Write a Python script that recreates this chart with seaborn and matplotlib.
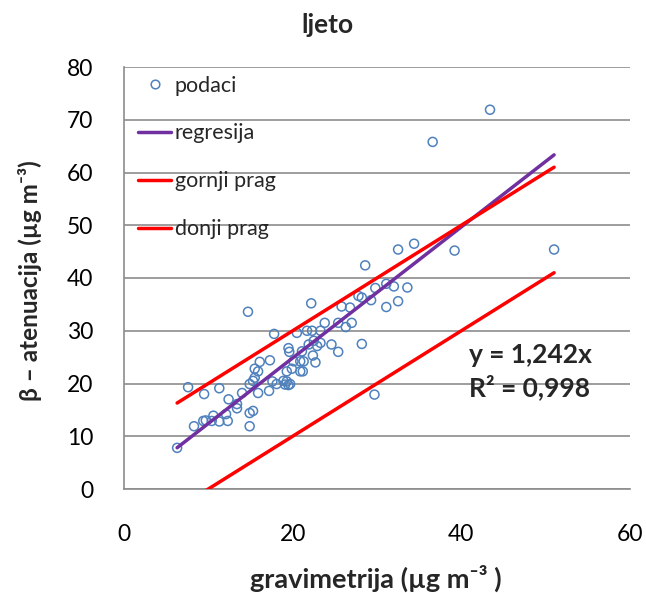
import numpy as np
import pandas as pd
import matplotlib
matplotlib.use("Agg")
import matplotlib.pyplot as plt
from matplotlib.lines import Line2D
import seaborn as sns

# ---- data ----
grav = [6.3, 7.6, 8.3, 9.5, 9.4, 9.7, 10.4, 10.6, 11.3, 11.3, 12.1, 12.3, 12.4,
        13.4, 13.4, 14.0, 14.7, 14.9, 14.9, 15.3, 14.9, 15.3, 15.5, 15.5, 15.9,
        15.9, 16.1, 17.2, 17.3, 17.6, 17.8, 18.1, 18.9, 19.1, 19.3, 19.5, 19.7,
        19.3, 19.6, 19.5, 19.9, 20.1, 20.5, 20.9, 20.9, 21.1, 21.2, 21.3, 21.7,
        21.9, 22.2, 22.3, 22.4, 22.5, 22.7, 22.9, 23.3, 23.3, 23.8, 24.6, 25.4,
        25.4, 25.8, 26.3, 26.8, 27.0, 27.8, 28.2, 28.2, 28.6, 29.3, 29.7, 29.8,
        31.1, 31.1, 32.0, 32.5, 32.5, 33.6, 34.4, 36.6, 39.2, 43.4, 51.0]
beta = [7.8, 19.3, 11.9, 18.0, 12.9, 13.0, 12.9, 13.9, 19.1, 12.8, 14.2, 12.9, 17.0,
        15.3, 16.1, 18.2, 33.6, 19.9, 14.4, 14.8, 11.9, 20.5, 21.1, 22.8, 22.3,
        18.2, 24.1, 18.6, 24.4, 20.4, 29.4, 19.9, 20.5, 19.8, 20.4, 19.7, 19.9,
        22.3, 26.0, 26.7, 22.8, 24.2, 29.6, 24.2, 22.3, 26.1, 22.3, 24.2, 30.0,
        27.4, 35.2, 30.0, 25.3, 28.1, 24.0, 27.1, 30.0, 27.7, 31.5, 27.4, 26.0,
        31.5, 34.6, 30.7, 34.4, 31.5, 36.6, 27.5, 36.3, 42.4, 35.8, 17.9, 38.1,
        38.9, 34.5, 38.4, 35.6, 45.4, 38.2, 46.5, 65.8, 45.2, 71.9, 45.4]
slope = 1.242
r2 = 0.998
prag = 10
x_ticks = [0, 20, 40, 60]
y_ticks = [0, 10, 20, 30, 40, 50, 60, 70, 80]
labels = ["podaci", "regresija", "gornji prag", "donji prag"]

sns.set_style("white")
plt.rcParams['font.family'] = ['Lato', 'DejaVu Sans']

W, H = 646, 593
fig = plt.figure(figsize=(W / 100, H / 100), dpi=100)
ax = fig.add_axes([124 / W, 1 - 489 / H, (630 - 124) / W, (489 - 67) / H])

df = pd.DataFrame({"x": grav, "y": beta})
blue = "#4F81BD"
purple = "#7030A0"
red = "#FF0000"
grid_c = "#8C8C8C"

sns.scatterplot(data=df, x="x", y="y", ax=ax, marker="o", s=42,
                facecolors="none", edgecolor=blue, linewidth=1.1, zorder=3)

xl = np.array([min(grav), max(grav)])
lines = pd.DataFrame({"x": xl, "reg": slope * xl, "up": xl + prag, "lo": xl - prag})
sns.lineplot(data=lines, x="x", y="reg", ax=ax, color=purple, lw=2.5, zorder=4)
sns.lineplot(data=lines, x="x", y="up", ax=ax, color=red, lw=2.5, zorder=4)
sns.lineplot(data=lines, x="x", y="lo", ax=ax, color=red, lw=2.5, zorder=4)

ax.set_xlim(0, 60)
ax.set_ylim(0, 80)
ax.set_xticks(x_ticks)
ax.set_yticks(y_ticks)
ax.set_xlabel("")
ax.set_ylabel("")
ax.yaxis.grid(True, color=grid_c, lw=1.2)
ax.xaxis.grid(False)
ax.set_axisbelow(True)
for s in ["top", "right"]:
    ax.spines[s].set_visible(False)
for s in ["left", "bottom"]:
    ax.spines[s].set_color(grid_c)
    ax.spines[s].set_linewidth(1.2)
ax.tick_params(axis="y", direction="out", length=8, width=1.2, color=grid_c,
               pad=14, labelsize=16.5, labelcolor="black")
ax.tick_params(axis="x", direction="out", length=5, width=1.2, color=grid_c,
               pad=20, labelsize=16.5, labelcolor="black")

handles = [
    Line2D([], [], ls="none", marker="o", mfc="none", mec=blue, ms=6.2, mew=1.1),
    Line2D([], [], color=purple, lw=2.5),
    Line2D([], [], color=red, lw=2.5),
    Line2D([], [], color=red, lw=2.5),
]
ax.legend(handles, labels, loc="upper left", bbox_to_anchor=(0.0, 1.013),
          frameon=False, fontsize=15.5, labelspacing=1.3, handlelength=1.55,
          handletextpad=0.15, borderaxespad=0.25)

fig.text(327 / W, 1 - 25 / H, "ljeto", ha="center", va="center",
         fontsize=19, fontweight="bold")
fig.text(376 / W, 1 - 578 / H, "gravimetrija (µg m\u207B\u00B3 )", ha="center",
         va="center", fontsize=19.5, fontweight="bold")
fig.text(30 / W, 1 - 281 / H, "β – atenuacija (µg m\u207B\u00B3)", ha="center",
         va="center", rotation=90, fontsize=17.5, fontweight="bold")
fig.text(469 / W, 1 - 355 / H, "y = 1,242x", ha="left", va="center",
         fontsize=19, fontweight="bold")
fig.text(469 / W, 1 - 387 / H, "R² = 0,998", ha="left", va="center",
         fontsize=19, fontweight="bold")

fig.savefig("out.png", dpi=100)
